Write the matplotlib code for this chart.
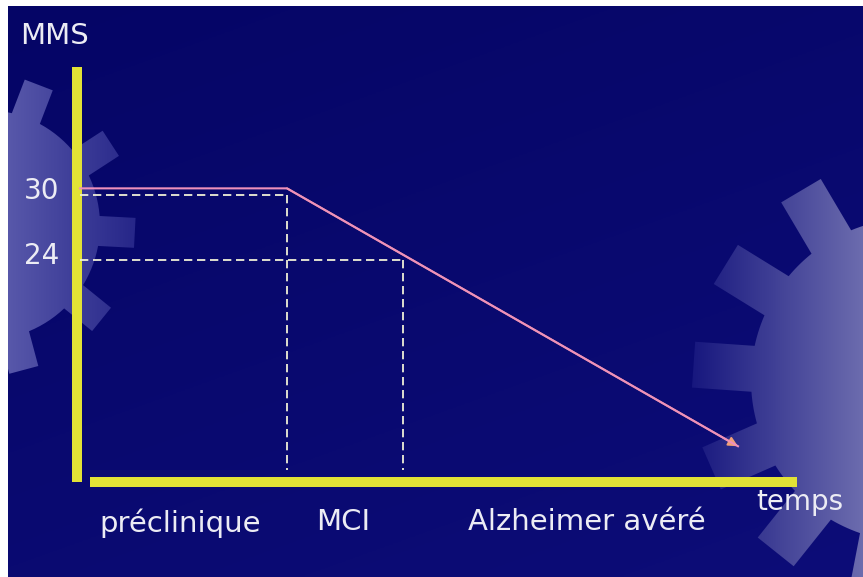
import numpy as np
import matplotlib
matplotlib.use('Agg')
import matplotlib.pyplot as plt
from matplotlib.path import Path
from matplotlib.patches import PathPatch
from matplotlib.transforms import ScaledTranslation

# courbe MMS en fonction du temps
temps = [0.03, 2.1, 6.61]
mms = [30.6, 30.6, 6.8]

# seuils
seuils = [30, 24]
seuil_temps = [2.1, 3.26]
seuil_labels = ['30', '24']

# phases
phases = ['préclinique', 'MCI', 'Alzheimer avéré']
phase_pos = [1.03, 2.66, 5.1]

W, H = 863, 577
TXT = '#ececf4'
YEL = '#e2e236'


def gear_path(cx, cy, r_in, r_out, n, start, half_w):
    # engrenage a dents rectangulaires, angles en degres (y vers le bas)
    pts = []
    step = 360.0 / n
    c = np.array([cx, cy])
    for i in range(n):
        a = np.radians(start + i * step)
        d = np.array([np.cos(a), np.sin(a)])
        p = np.array([-np.sin(a), np.cos(a)])
        da = np.arcsin(half_w / r_in)
        pts.append(c + r_in * np.array([np.cos(a - da), np.sin(a - da)]))
        pts.append(c + r_out * d - half_w * p)
        pts.append(c + r_out * d + half_w * p)
        pts.append(c + r_in * np.array([np.cos(a + da), np.sin(a + da)]))
        a2 = np.radians(start + (i + 1) * step)
        for b in np.linspace(a + da, a2 - da, 8)[1:-1]:
            pts.append(c + r_in * np.array([np.cos(b), np.sin(b)]))
    pts.append(pts[0])
    codes = [Path.MOVETO] + [Path.LINETO] * (len(pts) - 2) + [Path.CLOSEPOLY]
    return Path(pts, codes)


def gradient(bg, x0, x1, c0, c1, path):
    c0 = np.array(matplotlib.colors.to_rgb(c0))
    c1 = np.array(matplotlib.colors.to_rgb(c1))
    t = np.linspace(0, 1, 256)[None, :, None]
    img = c0 + (c1 - c0) * t
    im = bg.imshow(img, extent=(x0, x1, H, 0), aspect='auto', zorder=1)
    patch = PathPatch(path, transform=bg.transData, facecolor='none', edgecolor='none')
    bg.add_patch(patch)
    im.set_clip_path(patch)


fig = plt.figure(figsize=(W / 100, H / 100), dpi=100)
fig.patch.set_facecolor('white')

# fond de la diapo
bg = fig.add_axes([0, 0, 1, 1])
bg.set_xlim(0, W)
bg.set_ylim(H, 0)
bg.axis('off')
yy, xx = np.mgrid[0:1:200j, 0:1:300j]
dark = np.array([0.02, 0.02, 0.40])
light = np.array([0.05, 0.05, 0.47])
mix = np.clip(0.35 * xx + 0.65 * yy, 0, 1)[..., None]
bg.imshow(dark + (light - dark) * mix, extent=(8, W, H, 6), aspect='auto', zorder=0)

# engrenages
gradient(bg, 8, 160, '#5858aa', '#1c1c82', gear_path(-15, 225, 115, 150, 10, 3, 15))
gradient(bg, 690, W, '#16167e', '#6c6cae', gear_path(913, 380, 162, 220, 13, 184, 23))
bg.set_xlim(0, W)
bg.set_ylim(H, 0)

# axes du graphique
ax = fig.add_axes([77 / W, 95 / H, 720 / W, 415 / H])
ax.set_facecolor('none')
ax.set_xlim(0, 7.2)
ax.set_ylim(3.5, 41.8)
for s in ['top', 'right']:
    ax.spines[s].set_visible(False)
for s in ['left', 'bottom']:
    ax.spines[s].set_color(YEL)
    ax.spines[s].set_linewidth(7.2)
    ax.spines[s].set_capstyle('butt')
ax.spines['bottom'].set_bounds(0.13, 7.2)

ax.set_xticks(phase_pos)
ax.set_xticklabels(phases)
ax.set_yticks(seuils)
ax.set_yticklabels(seuil_labels)
ax.tick_params(length=0, colors=TXT)
ax.tick_params(axis='x', pad=19, labelsize=21)
ax.tick_params(axis='y', pad=13, labelsize=20)
off = ScaledTranslation(0, 5 / 72, fig.dpi_scale_trans)
for lab in ax.get_yticklabels():
    lab.set_transform(lab.get_transform() + off)

# pointillés
for t, s in zip(seuil_temps, seuils):
    ax.plot([temps[0], t], [s, s], color='#efefd6', lw=1.3, dashes=(4.6, 2.6), zorder=3)
    ax.plot([t, t], [s, 4.6], color='#efefd6', lw=1.3, dashes=(4.6, 2.6), zorder=3)

# courbe
ax.annotate('', xy=(temps[-1], mms[-1]), xytext=(temps[-2], mms[-2]),
            arrowprops=dict(arrowstyle='-|>', color='#f2a078', lw=1.4, mutation_scale=14,
                            shrinkA=0, shrinkB=0), zorder=4)
ax.plot(temps, mms, color='#ee90bc', lw=1.5, zorder=5, solid_joinstyle='round')

fig.text(20 / W, 1 - 36 / H, 'MMS', color=TXT, fontsize=21, va='center', ha='left')
fig.text(800 / W, 1 - 502 / H, 'temps', color=TXT, fontsize=20, va='center', ha='center')

fig.savefig('out.png', dpi=100, facecolor='white')
